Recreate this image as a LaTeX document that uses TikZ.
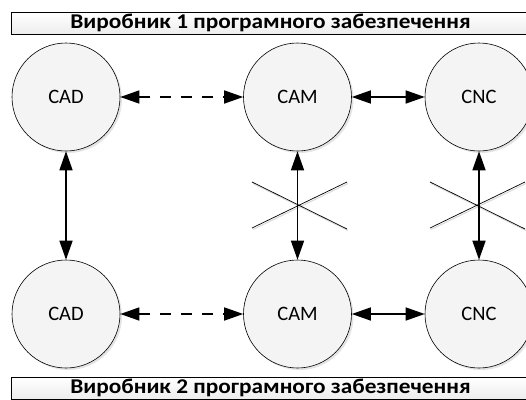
\documentclass[tikz,border=0pt]{standalone}
\usepackage{fontspec}
\setmainfont{Carlito}
\newfontfamily\barfont[FakeStretch=1.11]{Carlito}
\usetikzlibrary{arrows.meta,shadows}
\tikzset{
  proc/.style={circle, draw=black, line width=0.6pt, fill=gray!9, minimum size=108pt, inner sep=0pt,
    font=\fontsize{20.5}{24}\selectfont,
    drop shadow={shadow xshift=2pt, shadow yshift=-2pt, fill=gray!35, opacity=0.6}},
  bar/.style={draw=black, line width=0.6pt, top color=white, bottom color=gray!14,
    minimum width=519pt, minimum height=22pt, inner sep=0pt, font=\barfont\bfseries\fontsize{21}{22}\selectfont},
  link/.style={line width=1.5pt, {Triangle[length=19pt,width=13pt]}-{Triangle[length=19pt,width=13pt]}},
  dashlink/.style={link, dash pattern=on 11pt off 10pt},
  crossline/.style={line width=0.7pt, draw=black},
  crossshadow/.style={line width=1pt, draw=gray!30}
}
\begin{document}
\begin{tikzpicture}[x=1pt,y=-1pt]
\useasboundingbox (0,0) rectangle (526,399);
\clip (0,0) rectangle (526,399);
\fill[white] (0,0) rectangle (526,399);

\node[bar] (top) at (270.5,23) {Виробник 1 програмного забезпечення};
\node[bar] (bot) at (270.5,388) {Виробник 2 програмного забезпечення};

% crosses
\draw[crossshadow] (253,183.5) -- (348,230.5);
\draw[crossshadow] (253,229.5) -- (348,183.5);
\draw[crossline] (252,182) -- (347,229);
\draw[crossline] (252,228) -- (347,182);
\draw[crossshadow] (431,183.5) -- (526,230.5);
\draw[crossshadow] (431,229.5) -- (526,183.5);
\draw[crossline] (430,182) -- (525,229);
\draw[crossline] (430,228) -- (525,182);

\node[proc] (cad1) at (66,97) {CAD};
\node[proc] (cam1) at (297.5,97) {CAM};
\node[proc] (cnc1) at (479,97) {CNC};
\node[proc] (cad2) at (66,314) {CAD};
\node[proc] (cam2) at (297.5,314) {CAM};
\node[proc] (cnc2) at (479,314) {CNC};

\draw[dashlink] (cad1) -- (cam1);
\draw[link] (cam1) -- (cnc1);
\draw[dashlink] (cad2) -- (cam2);
\draw[link] (cam2) -- (cnc2);
\draw[link] (cad1) -- (cad2);
\draw[link] (cam1) -- (cam2);
\draw[link] (cnc1) -- (cnc2);
\end{tikzpicture}
\end{document}
